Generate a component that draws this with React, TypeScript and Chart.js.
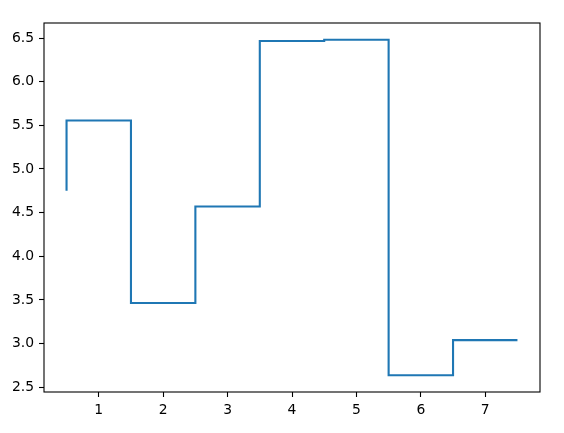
import React, { useEffect, useRef } from "react";
import { Chart, registerables } from "chart.js";

Chart.register(...registerables);

const xEdges = [0.5, 1.5, 2.5, 3.5, 4.5, 5.5, 6.5, 7.5];
const yValues = [4.75, 5.555, 3.465, 4.57, 6.465, 6.48, 2.638, 3.04];
const xTicks = [1, 2, 3, 4, 5, 6, 7];
const yTicks = [2.5, 3.0, 3.5, 4.0, 4.5, 5.0, 5.5, 6.0, 6.5];

const frame = {
  id: "frame",
  afterDraw(chart: any) {
    const { ctx, chartArea } = chart;
    ctx.save();
    ctx.strokeStyle = "#000";
    ctx.lineWidth = 1.1;
    ctx.strokeRect(chartArea.left, chartArea.top, chartArea.right - chartArea.left, chartArea.bottom - chartArea.top);
    ctx.restore();
  },
};

export default function App() {
  const ref = useRef<HTMLCanvasElement>(null);
  useEffect(() => {
    document.body.style.margin = "0";
    const font = { family: "DejaVu Sans", size: 13.9 };
    const chart = new Chart(ref.current!, {
      type: "line",
      data: {
        datasets: [
          {
            data: xEdges.map((x, i) => ({ x, y: yValues[i] })),
            stepped: "after",
            borderColor: "#1f77b4",
            borderWidth: 2.1,
            pointRadius: 0,
            fill: false,
          },
        ],
      },
      options: {
        responsive: false,
        animation: false,
        layout: { padding: { left: 0, top: 23, right: 24, bottom: 0 } },
        plugins: { legend: { display: false }, tooltip: { enabled: false } },
        scales: {
          x: {
            type: "linear",
            min: 0.15,
            max: 7.85,
            afterBuildTicks: (s: any) => {
              s.ticks = xTicks.map((v) => ({ value: v }));
            },
            afterFit: (s: any) => {
              s.height = 41;
            },
            grid: { drawOnChartArea: false, drawTicks: true, tickLength: 5, color: "#000", tickWidth: 1.1 },
            border: { display: false },
            ticks: { font, color: "#000", padding: 5, maxRotation: 0, callback: (v: any) => String(v) },
          },
          y: {
            type: "linear",
            min: 2.446,
            max: 6.672,
            afterBuildTicks: (s: any) => {
              s.ticks = yTicks.map((v) => ({ value: v }));
            },
            afterFit: (s: any) => {
              s.width = 44;
            },
            grid: { drawOnChartArea: false, drawTicks: true, tickLength: 5, color: "#000", tickWidth: 1.1 },
            border: { display: false },
            ticks: { font, color: "#000", padding: 5, callback: (v: any) => Number(v).toFixed(1) },
          },
        },
      },
      plugins: [frame],
    });
    return () => chart.destroy();
  }, []);
  return (
    <div style={{ width: 564, height: 433 }}>
      <canvas ref={ref} width={564} height={433} />
    </div>
  );
}
